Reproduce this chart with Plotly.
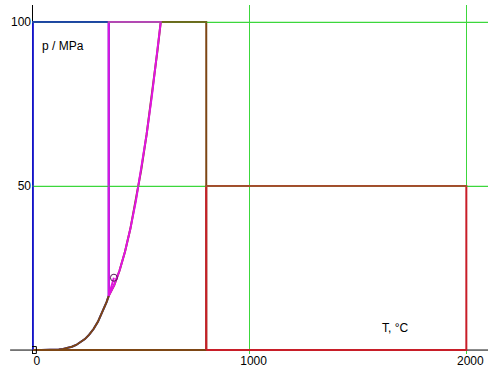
import plotly.graph_objects as go

# ---- data (IAPWS-IF97 region boundaries, T in °C, p in MPa)
T_sat = [0.01, 20, 40, 60, 80, 100, 120, 140, 160, 180, 200, 220, 240, 260, 280, 300, 320, 340, 350]
p_sat = [0.000612, 0.00234, 0.00738, 0.01995, 0.04739, 0.10142, 0.19867, 0.36154, 0.61823, 1.0028,
         1.5549, 2.3196, 3.3469, 4.6923, 6.4166, 8.5879, 11.284, 14.601, 16.529]
T_sat3 = [350, 360, 370, 373.946]
p_sat3 = [16.529, 18.666, 21.044, 22.064]
T_b23 = [350, 375, 400, 425, 450, 475, 500, 525, 550, 575, 590]
p_b23 = [16.529, 19.747, 24.237, 30.00, 37.04, 45.35, 54.94, 65.80, 77.93, 91.35, 100.0]
p_max = 100
p_max5 = 50
T_r1 = 350
T_r2 = 800
T_r5 = 2000
T_triple, p_triple = 0.01, 0.000612
T_crit, p_crit = 373.946, 22.064

x_ticks = [0, 1000, 2000]
y_ticks = [50, 100]

BLUE = "rgb(20,20,200)"
BROWN = "rgb(125,70,20)"
MAGENTA = "rgb(225,20,225)"
RED = "rgb(200,30,40)"
GRID = "rgb(60,215,60)"

fig = go.Figure()

# Region 1 (blue)
x1 = [T_sat[0], 0, T_r1] + [T_r1] + T_sat[::-1]
y1 = [p_sat[0], p_max, p_max] + [p_sat[-1]] + p_sat[::-1]
fig.add_trace(go.Scatter(x=x1, y=y1, mode="lines", line=dict(color=BLUE, width=2)))

# Region 2 (brown)
x2 = [0, T_r2, T_r2, T_b23[-1]] + T_b23[::-1] + T_sat[::-1] + [0]
y2 = [0, 0, p_max, p_max] + p_b23[::-1] + p_sat[::-1] + [0]
fig.add_trace(go.Scatter(x=x2, y=y2, mode="lines", line=dict(color=BROWN, width=2)))

# Region 3 (magenta)
x3 = [T_r1, T_r1, T_b23[-1]] + T_b23[::-1]
y3 = [p_sat[-1], p_max, p_max] + p_b23[::-1]
fig.add_trace(go.Scatter(x=x3, y=y3, mode="lines", line=dict(color=MAGENTA, width=2)))
fig.add_trace(go.Scatter(x=T_sat3, y=p_sat3, mode="lines", line=dict(color=MAGENTA, width=2)))

# Region 5 (red)
x5 = [T_r2, T_r2, T_r5, T_r5, T_r2]
y5 = [0, p_max5, p_max5, 0, 0]
fig.add_trace(go.Scatter(x=x5, y=y5, mode="lines", line=dict(color=RED, width=2)))

# triple point and critical point
fig.add_trace(go.Scatter(x=[T_triple], y=[p_triple], mode="markers",
                         marker=dict(symbol="square-open", size=7, color="black", line=dict(width=1))))
fig.add_trace(go.Scatter(x=[T_crit], y=[p_crit], mode="markers",
                         marker=dict(symbol="circle-open", size=7, color="rgb(90,20,90)", line=dict(width=1))))

font = dict(family="Liberation Sans, Arial, sans-serif", size=12, color="black")

# horizontal grid lines re-drawn faintly above the traces (as in the reference, where they tint the lines)
grid_over = [dict(type="line", xref="paper", yref="y", x0=0, x1=1, y0=v, y1=v,
                  line=dict(color=GRID, width=1), opacity=0.55, layer="above") for v in y_ticks]

fig.update_layout(
    width=491, height=371,
    margin=dict(l=32, r=3, t=5, b=17),
    paper_bgcolor="white", plot_bgcolor="white",
    showlegend=False,
    font=font,
    xaxis=dict(range=[-4, 2100], tickvals=x_ticks, ticktext=[str(v) for v in x_ticks],
               showgrid=True, gridcolor=GRID, gridwidth=1,
               zeroline=True, zerolinecolor="black", zerolinewidth=1,
               showline=False, ticks="", ticklabelshift=4, ticklabelstandoff=-2,
               tickfont=font, fixedrange=True),
    yaxis=dict(range=[-1.2, 105.2], tickvals=y_ticks, ticktext=[str(v) for v in y_ticks],
               showgrid=True, gridcolor=GRID, gridwidth=1,
               zeroline=False, showline=False, ticks="",
               tickfont=font, fixedrange=True),
    shapes=[dict(type="line", xref="paper", yref="y", x0=-0.048, x1=1.0, y0=0, y1=0,
                 line=dict(color="black", width=1), layer="below")] + grid_over,
    annotations=[
        dict(text="p / MPa", xref="paper", yref="paper", x=0.0175, y=0.8825,
             xanchor="left", yanchor="middle", showarrow=False, font=font),
        dict(text="T, °C", xref="paper", yref="paper", x=0.763, y=0.0745,
             xanchor="left", yanchor="middle", showarrow=False, font=font),
    ],
)

fig.write_html("out.html")
